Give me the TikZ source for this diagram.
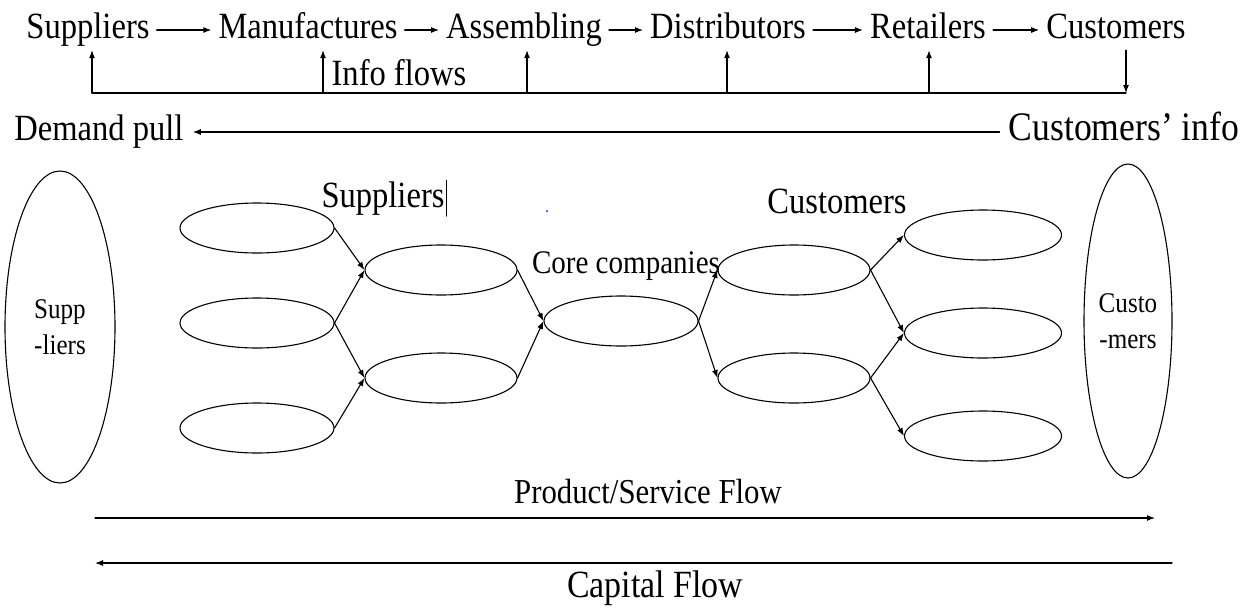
\documentclass[tikz,border=0pt]{standalone}
\usepackage{fontspec}
\setmainfont{Liberation Serif}[FakeStretch=0.88]
\usetikzlibrary{arrows.meta,shapes.geometric}
\begin{document}
\begin{tikzpicture}[x=1pt,y=-1pt,>={Latex[length=8pt,width=6pt]},line cap=round,line join=round]
\path[fill=white] (0,0) rectangle (1250,607);
\tikzset{chain/.style={font=\fontsize{37}{40}\selectfont,text height=24pt,text depth=8pt,inner xsep=7pt,inner ysep=4pt,anchor=base},tag/.style={font=\fontsize{37}{40}\selectfont,inner sep=2pt},wire/.style={draw=black,line width=1.1pt},flow/.style={wire,->},pod/.style={draw=black,line width=1.1pt,ellipse,minimum width=154pt,minimum height=50pt,inner sep=0pt},bigpod/.style={draw=black,line width=1.1pt,ellipse,inner sep=0pt,font=\fontsize{28.5}{36}\selectfont,align=center}}
% chain along the top
\node[chain] (sup) at (88,38) {Suppliers};
\node[chain] (man) at (308,38) {Manufactures};
\node[chain] (asm) at (524,38) {Assembling};
\node[chain] (dis) at (728,38) {Distributors};
\node[chain] (ret) at (928,38) {Retailers};
\node[chain] (cus) at (1116,38) {Customers};
\draw[flow] (sup) -- (man); \draw[flow] (man) -- (asm); \draw[flow] (asm) -- (dis);
\draw[flow] (dis) -- (ret); \draw[flow] (ret) -- (cus);
% info flows
\coordinate (infoend) at (1126,93);
\foreach \x/\n in {92/sup,323/man,527/asm,727/dis,929/ret} {
  \coordinate (up\n) at (\x,93);
  \draw[flow] (up\n) -- (up\n |- \n.south);
}
\draw[wire] (upsup) -- (infoend);
\draw[flow] (infoend |- cus.south) -- (infoend);
\node[tag] (info) at (399,73) {Info flows};
% demand pull
\node[chain,inner xsep=9pt] (pull) at (99,140) {Demand pull};
\node[chain,inner xsep=9pt,font=\fontsize{40.5}{44}\selectfont] (cinfo) at (1124,140) {Customers' info};
\draw[flow] (cinfo) -- (pull);
% network
\node[bigpod,minimum width=110pt,minimum height=312pt] (bigsup) at (60,327) {Supp\\-liers};
\node[bigpod,minimum width=88pt,minimum height=314pt] (bigcus) at (1128,321) {Custo\\-mers};
\node[pod] (supA) at (257,228) {};
\node[pod] (supB) at (257,323) {};
\node[pod] (supC) at (257,428) {};
\node[pod,minimum width=152pt] (tierA) at (441,270) {};
\node[pod,minimum width=152pt] (tierB) at (441,378) {};
\node[pod] (core) at (621,321) {};
\node[pod,minimum width=152pt] (custA) at (794,270) {};
\node[pod,minimum width=152pt] (custB) at (794,378) {};
\node[pod,minimum width=157pt] (endA) at (983,235) {};
\node[pod,minimum width=157pt] (endB) at (983,333) {};
\node[pod,minimum width=157pt] (endC) at (983,436) {};
\draw[flow] (supA.east) -- (tierA.west); \draw[flow] (supB.east) -- (tierA.west);
\draw[flow] (supB.east) -- (tierB.west); \draw[flow] (supC.east) -- (tierB.west);
\draw[flow] (tierA.east) -- (core.west); \draw[flow] (tierB.east) -- (core.west);
\draw[flow] (core.east) -- (custA.west); \draw[flow] (core.east) -- (custB.west);
\draw[flow] (custA.east) -- (endA.west); \draw[flow] (custA.east) -- (endB.west);
\draw[flow] (custB.east) -- (endB.west); \draw[flow] (custB.east) -- (endC.west);
\node[tag] (midsup) at (383,199) {Suppliers};
\node[tag] (midcus) at (837,201) {Customers};
\node[tag,font=\fontsize{33}{37}\selectfont] (corelbl) at (626,266) {Core companies};
\draw[line width=1pt] (446,180) -- (446,216);
\fill[blue] (547,211) circle (1pt);
% flows along the bottom
\node[tag,font=\fontsize{35}{39}\selectfont] (prod) at (648,492) {Product/Service Flow};
\node[tag,font=\fontsize{38.5}{42}\selectfont] (cap) at (655,588) {Capital Flow};
\coordinate (prodL) at (95,518); \coordinate (prodR) at (1155,518);
\coordinate (capR) at (1172,563); \coordinate (capL) at (95,563);
\draw[flow] (prodL) -- (prodR);
\draw[flow] (capR) -- (capL);
\end{tikzpicture}
\end{document}
